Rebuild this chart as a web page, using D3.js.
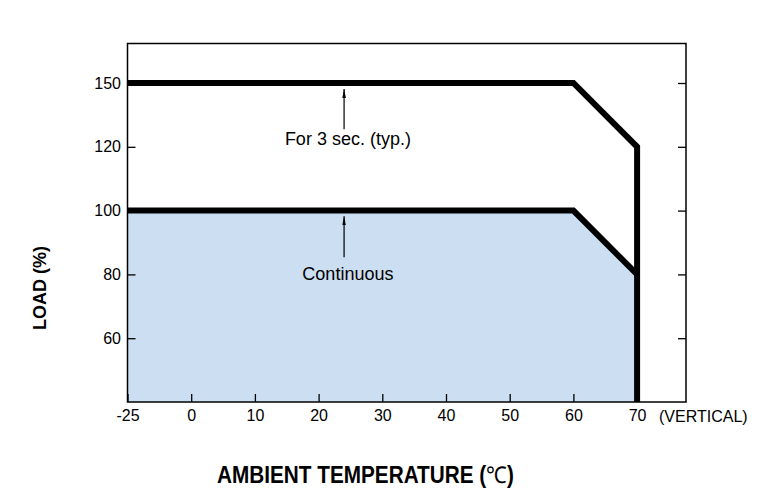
<!DOCTYPE html>
<html>
<head>
<meta charset="utf-8">
<script src="https://cdn.jsdelivr.net/npm/d3@7"></script>
<style>
  body { margin: 0; background: #fff; }
  text { font-family: "Liberation Sans", Arial, sans-serif; fill: #000; }
</style>
</head>
<body>
<svg id="chart" width="773" height="498"></svg>
<script>
// ------------------------------------
// Data
// ------------------------------------
const xTicks = [-25, 0, 10, 20, 30, 40, 50, 60, 70];
const yTicks = [60, 80, 100, 120, 150];

// peak load (3 sec.) and continuous load vs ambient temperature
const peakTemp = [-25, 60, 70, 70];
const peakLoad = [150, 150, 120, 40];
const contTemp = [-25, 60, 70];
const contLoad = [100, 100, 80];

// annotations: arrow at temperature, tail/tip load, label position
const noteLabels = ["For 3 sec. (typ.)", "Continuous"];
const noteTemp = [24, 24];
const noteTail = [128.2, 85.4];
const noteTip = [147.2, 98.2];
const noteLabelTemp = [24.6, 24.6];
const noteLabelLoad = [120.9, 78.2];

// ------------------------------------
// Layout + scales
// ------------------------------------
const plot = { left: 127.5, right: 686, top: 43.5, bottom: 402 };
const xStep = 63.7, yStep = 63.8;

const svg = d3.select("#chart");

// tick spacing in the source is uniform, so the scales are piecewise
const x = d3.scaleLinear()
    .domain([-25, 0, 70])
    .range([plot.left, plot.left + xStep, plot.left + 8 * xStep]);

const y = d3.scaleLinear()
    .domain([40, 120, 150])
    .range([plot.bottom, plot.bottom - 4 * yStep, plot.bottom - 5 * yStep]);

const cont = contTemp.map((t, i) => [t, contLoad[i]]);
const peak = peakTemp.map((t, i) => [t, peakLoad[i]]);

// Shaded continuous-load region
svg.append("path")
    .datum(cont)
    .attr("d", d3.area()
        .x(d => x(d[0]))
        .y0(y(40))
        .y1(d => y(d[1])))
    .attr("fill", "#cbdef2");

// Axes with inward ticks
const axisStyle = g => {
  g.select(".domain").remove();
  g.selectAll(".tick line").attr("stroke", "#000").attr("stroke-width", 1.3);
  g.selectAll(".tick text")
      .style("font-size", "16px")
      .style("font-family", "'Liberation Sans', Arial, sans-serif")
      .attr("fill", "#000");
};

svg.append("g")
    .attr("transform", `translate(${plot.left},0)`)
    .call(d3.axisLeft(y).tickValues(yTicks).tickSize(-8).tickPadding(6.5))
    .call(axisStyle);

svg.append("g")
    .attr("transform", `translate(${plot.right},0)`)
    .call(d3.axisRight(y).tickValues(yTicks).tickSize(-8).tickFormat(""))
    .call(axisStyle);

svg.append("g")
    .attr("transform", `translate(0,${plot.bottom})`)
    .call(d3.axisBottom(x).tickValues(xTicks).tickSize(-8).tickPadding(8).tickFormat(d => String(d)))
    .call(axisStyle);

// Frame
svg.append("rect")
    .attr("x", plot.left)
    .attr("y", plot.top)
    .attr("width", plot.right - plot.left)
    .attr("height", plot.bottom - plot.top)
    .attr("fill", "none")
    .attr("stroke", "#000")
    .attr("stroke-width", 1.5);

// Curves
const line = d3.line().x(d => x(d[0])).y(d => y(d[1]));

[peak, cont].forEach(pts => {
  svg.append("path")
      .datum(pts)
      .attr("d", line)
      .attr("fill", "none")
      .attr("stroke", "#000")
      .attr("stroke-width", 6)
      .attr("stroke-linejoin", "miter");
});

// Arrows
svg.append("defs").append("marker")
    .attr("id", "head")
    .attr("viewBox", "0 0 10 4")
    .attr("refX", 10)
    .attr("refY", 2)
    .attr("markerUnits", "userSpaceOnUse")
    .attr("markerWidth", 9)
    .attr("markerHeight", 4)
    .attr("orient", "auto")
  .append("path")
    .attr("d", "M0,0L10,2L0,4Z")
    .attr("fill", "#000");

noteLabels.forEach((label, i) => {
  svg.append("line")
      .attr("x1", x(noteTemp[i]))
      .attr("x2", x(noteTemp[i]))
      .attr("y1", y(noteTail[i]))
      .attr("y2", y(noteTip[i]))
      .attr("stroke", "#000")
      .attr("stroke-width", 1.2)
      .attr("marker-end", "url(#head)");

  svg.append("text")
      .attr("x", x(noteLabelTemp[i]))
      .attr("y", y(noteLabelLoad[i]))
      .attr("text-anchor", "middle")
      .style("font-size", "18px")
      .text(label);
});

// Axis titles
svg.append("text")
    .attr("x", 659)
    .attr("y", 421.5)
    .style("font-size", "16px")
    .text("(VERTICAL)");

svg.append("text")
    .attr("transform", "translate(45.5,288) rotate(-90)")
    .attr("text-anchor", "middle")
    .style("font-size", "18px")
    .style("font-weight", "bold")
    .text("LOAD (%)");

// x title: tall, condensed lettering -> squeeze horizontally to fit
const xTitle = svg.append("text")
    .style("font-size", "23px")
    .style("font-weight", "bold");
xTitle.append("tspan").text("AMBIENT TEMPERATURE (");
xTitle.append("tspan").style("font-weight", "normal").text("℃");
xTitle.append("tspan").text(")");
const natural = xTitle.node().getComputedTextLength();
xTitle.attr("transform", `translate(217,482.5) scale(${297 / natural},1)`);
</script>
</body>
</html>
